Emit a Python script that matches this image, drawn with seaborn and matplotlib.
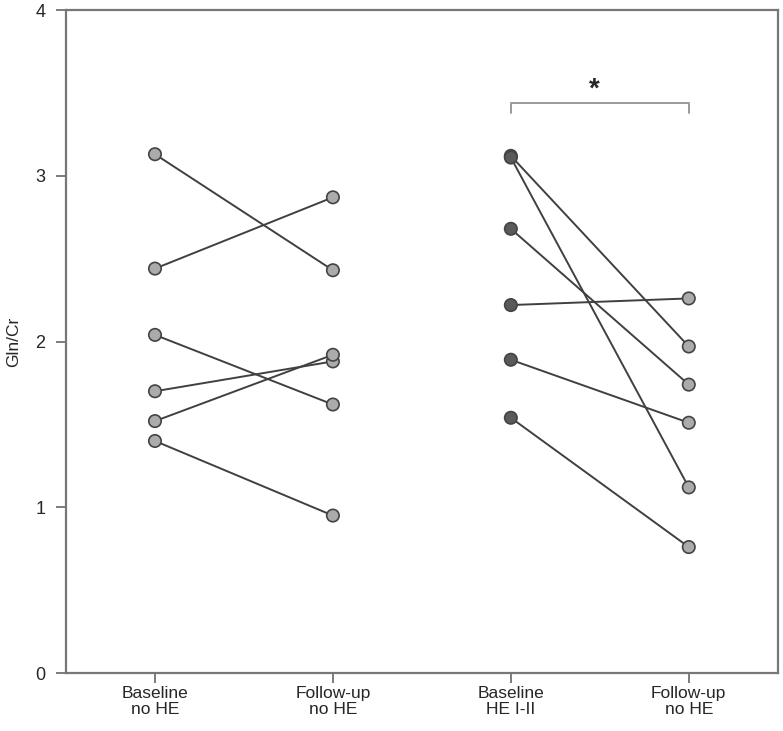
import pandas as pd
import matplotlib
matplotlib.use("Agg")
import matplotlib.pyplot as plt
import seaborn as sns

# Gln/Cr, paired per patient
no_he_baseline = [3.13, 2.44, 2.04, 1.70, 1.52, 1.40]
no_he_followup = [2.43, 2.87, 1.62, 1.88, 1.92, 0.95]
he_baseline = [3.12, 3.11, 2.68, 2.22, 1.89, 1.54]
he_followup = [1.97, 1.12, 1.74, 2.26, 1.51, 0.76]

tick_labels = ["Baseline\nno HE", "Follow-up\nno HE", "Baseline\nHE I-II", "Follow-up\nno HE"]

rows = []
for i, (b, f) in enumerate(zip(no_he_baseline, no_he_followup)):
    rows.append(("A%d" % i, 0, b, "light"))
    rows.append(("A%d" % i, 1, f, "light"))
for i, (b, f) in enumerate(zip(he_baseline, he_followup)):
    rows.append(("B%d" % i, 2, b, "dark"))
    rows.append(("B%d" % i, 3, f, "light"))
df = pd.DataFrame(rows, columns=["subject", "pos", "value", "shade"])

sns.set_style("white")
plt.rcParams["font.family"] = ["Liberation Sans", "DejaVu Sans"]

fig = plt.figure(figsize=(7.83, 7.31), dpi=100)
ax = fig.add_axes([0.0843, 0.0793, 0.909, 0.907])

sns.lineplot(data=df, x="pos", y="value", units="subject", estimator=None,
             color="#404040", linewidth=1.4, ax=ax, zorder=2)
sns.scatterplot(data=df, x="pos", y="value", hue="shade",
                palette={"light": "#ababab", "dark": "#5a5a5a"},
                s=80, edgecolor="#444444", linewidth=1.2, legend=False,
                ax=ax, zorder=3)

# significance bracket
ax.plot([2, 2, 3, 3], [3.38, 3.44, 3.44, 3.38], color="#9a9a9a", linewidth=1.4)
ax.text(2.47, 3.52, "*", ha="center", va="center", fontsize=20, fontweight="bold")

ax.set_xlim(-0.5, 3.5)
ax.set_ylim(0, 4)
ax.set_xticks(range(4))
ax.set_xticklabels(tick_labels, fontsize=12.5, linespacing=1.15)
ax.set_yticks(range(5))
ax.tick_params(axis="y", labelsize=13, pad=8)
ax.tick_params(axis="x", pad=2)
ax.tick_params(direction="out", length=7, width=1.2, color="#666666",
               left=True, bottom=True)
ax.set_xlabel("")
ax.set_ylabel("Gln/Cr", fontsize=12.5, labelpad=10)
for s in ax.spines.values():
    s.set_color("#777777")
    s.set_linewidth(1.6)

fig.savefig("out.png", dpi=100)
